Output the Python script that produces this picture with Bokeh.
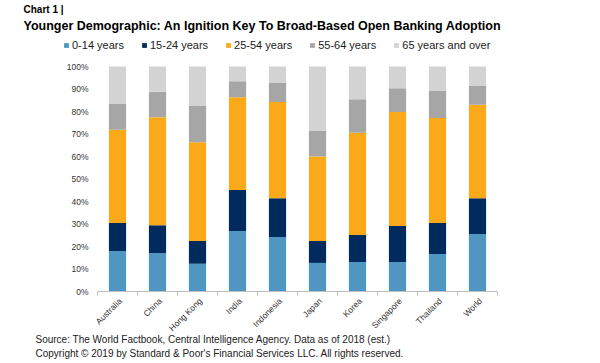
import math
from bokeh.plotting import figure
from bokeh.models import (ColumnDataSource, Range1d, Label, Legend, LegendItem)
from bokeh.embed import file_html
from bokeh.resources import INLINE

# ---- data (percent of population, 2018 est.) ----
countries = ["Australia", "China", "Hong Kong", "India", "Indonesia",
             "Japan", "Korea", "Singapore", "Thailand", "World"]
age_0_14 = [18.0, 17.1, 12.3, 26.9, 24.2, 12.7, 13.1, 13.1, 16.7, 25.6]
age_15_24 = [12.4, 12.4, 10.2, 18.2, 17.2, 9.8, 12.0, 16.0, 13.7, 15.9]
age_25_54 = [41.5, 47.9, 43.8, 41.2, 42.8, 37.5, 45.5, 50.7, 46.7, 41.5]
age_55_64 = [11.7, 11.4, 16.4, 7.2, 8.7, 11.6, 14.9, 10.5, 12.0, 8.6]
age_65_up = [16.4, 11.2, 17.3, 6.5, 7.1, 28.4, 14.5, 9.7, 10.9, 8.4]
series_names = ["0-14 years", "15-24 years", "25-54 years", "55-64 years", "65 years and over"]
y_ticks = [0, 10, 20, 30, 40, 50, 60, 70, 80, 90, 100]
y_tick_labels = [f"{t}%" for t in y_ticks]

colors = ["#4f97c2", "#002b5c", "#fba919", "#a6a6a6", "#d3d3d3"]
keys = ["a0", "a1", "a2", "a3", "a4"]

n = len(countries)
idx = list(range(n))
src = ColumnDataSource(dict(x=idx, a0=age_0_14, a1=age_15_24, a2=age_25_54,
                            a3=age_55_64, a4=age_65_up))

# ---- page geometry (pixels); the plot frame fills the whole canvas ----
W, H = 600, 363
AX_L, AX_R = 97, 497      # category axis extent
PLOT_T, PLOT_B = 66, 291  # 100% and 0% levels
cat_px = (AX_R - AX_L) / n
ypx = (PLOT_B - PLOT_T) / 100.0
x_start = -0.5 - AX_L / cat_px
x_end = -0.5 + (W - AX_L) / cat_px
y_end = PLOT_B / ypx
y_start = -(H - PLOT_B) / ypx

p = figure(width=W, height=H, output_backend="svg", toolbar_location=None,
           x_range=Range1d(x_start, x_end), y_range=Range1d(y_start, y_end),
           min_border=0, min_border_left=0, min_border_right=0,
           min_border_top=0, min_border_bottom=0)
p.xaxis.visible = False
p.yaxis.visible = False
p.outline_line_color = None
p.xgrid.grid_line_color = None
p.ygrid.grid_line_color = None
p.background_fill_color = "white"
p.border_fill_color = "white"

renderers = p.vbar_stack(keys, x="x", width=0.43, color=colors, source=src,
                         line_color=None)

FONT = "Liberation Sans"
AXIS_COLOR = "#bfbfbf"
LABEL_COLOR = "#333333"

# category axis: base line, boundary ticks, rotated labels
p.segment(x0=[-0.5], y0=[0], x1=[n - 0.5], y1=[0], line_color=AXIS_COLOR, line_width=1)
bounds = [i - 0.5 for i in range(n + 1)]
p.segment(x0=bounds, y0=[0] * len(bounds), x1=bounds, y1=[-4 / ypx] * len(bounds),
          line_color=AXIS_COLOR, line_width=1)
p.text(x=idx, y=[0] * n, text=countries, angle=math.pi / 4,
       text_align="right", text_baseline="middle", x_offset=3, y_offset=8,
       text_font={"value": FONT}, text_font_size={"value": "8.5px"},
       text_color=LABEL_COLOR)

# value axis labels
p.text(x=[-0.5] * len(y_ticks), y=y_ticks, text=y_tick_labels,
       text_align="right", text_baseline="middle", x_offset=-9,
       text_font={"value": FONT}, text_font_size={"value": "8.5px"},
       text_color=LABEL_COLOR)

# titles and notes (screen units from the canvas bottom-left)
def sy(Y):
    return H - Y

p.add_layout(Label(x=23, y=sy(3), x_units="screen", y_units="screen",
                   text="Chart 1  |", text_font=FONT, text_font_style="bold",
                   text_font_size="10px", text_baseline="top", text_color="#000000"))
p.add_layout(Label(x=23, y=sy(25), x_units="screen", y_units="screen",
                   text="Younger Demographic:  An Ignition Key To Broad-Based Open Banking Adoption",
                   text_font=FONT, text_font_style="bold", text_font_size="12.5px",
                   text_baseline="alphabetic", text_color="#000000"))
p.add_layout(Label(x=35, y=sy(339), x_units="screen", y_units="screen",
                   text="Source: The World Factbook, Central Intelligence Agency. Data as of 2018 (est.)",
                   text_font=FONT, text_font_size="10px", text_baseline="middle",
                   text_color="#222222"))
p.add_layout(Label(x=35, y=sy(353), x_units="screen", y_units="screen",
                   text="Copyright \u00a9 2019 by Standard & Poor's Financial Services LLC. All rights reserved.",
                   text_font=FONT, text_font_size="10px", text_baseline="middle",
                   text_color="#222222"))

# legend
items = [LegendItem(label=nm, renderers=[r]) for nm, r in zip(series_names, renderers)]
legend = Legend(items=items, orientation="horizontal", location=(63, sy(51)),
                glyph_width=6, glyph_height=6, label_standoff=3, spacing=17,
                label_height=12, padding=0, margin=0, border_line_color=None,
                background_fill_alpha=0, label_text_font=FONT,
                label_text_font_size="11px", label_text_color="#222222")
p.add_layout(legend, "center")

open("out.html", "w").write(file_html(p, INLINE))
